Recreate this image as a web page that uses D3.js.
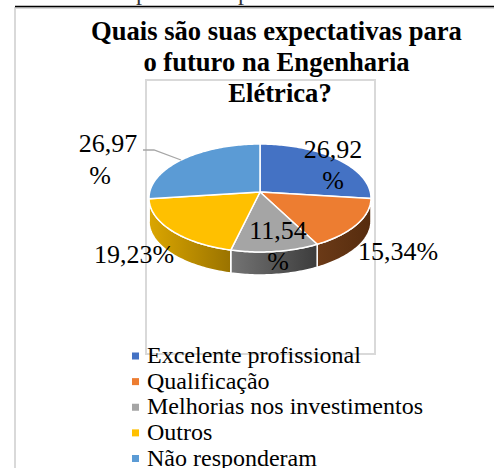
<!DOCTYPE html>
<html>
<head>
<meta charset="utf-8">
<script src="https://cdn.jsdelivr.net/npm/d3@7"></script>
<style>
  html, body { margin: 0; padding: 0; background: #fff; overflow: hidden; }
  svg { display: block; }
  text { font-family: "Liberation Serif", serif; fill: #000; }
</style>
</head>
<body>
<svg id="chart" width="494" height="468"></svg>
<script>
const categories = ["Excelente profissional", "Qualificação", "Melhorias nos investimentos", "Outros", "Não responderam"];
const values = [26.92, 15.34, 11.54, 19.23, 26.97];
const titleLines = ["Quais são suas expectativas para", "o futuro na Engenharia", "Elétrica?"];
const caption = "Gráfico - Expectativas para o futuro";

const colors = ["#4472c4", "#ed7d31", "#a5a5a5", "#ffc000", "#5b9bd5"];
const wallColors = [["#2a4a85", "#2a4a85"], ["#6b3a17", "#562c0e"], ["#747474", "#3c3c3c"], ["#dba600", "#9a7300"], ["#3d6e9c", "#3d6e9c"]];

// label placement: x centre, baseline of each line, whether it wraps
const labelLayout = [
    { x: 333, y: [158, 189], wrap: true },
    { x: 398, y: [260], wrap: false },
    { x: 278, y: [239, 270], wrap: true },
    { x: 134, y: [263], wrap: false },
    { x: 108, y: [152], wrap: true, pctX: 100, pctY: 184 },
];

const svg = d3.select("#chart");

const cx = 260, cy = 192, rx = 110.3, ry = 53.3, persp = 0.111, depth = 23;

// the pie is a tilted disc in perspective: far edge shrinks, so the apex sits above the ellipse centre
function project(a, dy) {
    const u = Math.sin(a), v = Math.cos(a), w = 1 + persp * v;
    return [cx + rx * u / w, cy - ry * v / w + dy];
}

function arcPoints(a0, a1, dy) {
    const n = Math.max(2, Math.ceil((a1 - a0) / 0.02));
    return d3.range(n + 1).map((i) => project(a0 + (a1 - a0) * i / n, dy));
}

const line = d3.line();
const pie = d3.pie().sort(null).value((d) => d);
const slices = pie(values);

// frames and the clipped caption line above the chart
svg.append("text").attr("x", 16).attr("y", 0).attr("text-anchor", "start")
    .attr("font-size", 24).style("fill", "#333").text(caption);
svg.append("rect").attr("x", 15).attr("y", 8).attr("width", 500).attr("height", 480)
    .attr("fill", "#fff").attr("stroke", "#d9d9d9").attr("stroke-width", 2);
svg.append("line").attr("x1", 15).attr("x2", 494).attr("y1", 6.5).attr("y2", 6.5)
    .attr("stroke", "#000").attr("stroke-width", 1.5);
svg.append("rect").attr("x", 146).attr("y", 80).attr("width", 229).attr("height", 274)
    .attr("fill", "none").attr("stroke", "#d9d9d9").attr("stroke-width", 2);

svg.append("text").attr("text-anchor", "middle").attr("font-size", 26.6).attr("font-weight", "bold")
    .selectAll("tspan").data(titleLines).join("tspan")
    .attr("x", (d, i) => (i === 2 ? 280 : 276.5))
    .attr("y", (d, i) => 40 + i * 31)
    .text((d) => d);

// side wall, only the part of the rim that faces the viewer
const visStart = 96.4 * Math.PI / 180, visEnd = 263.6 * Math.PI / 180;
const defs = svg.append("defs");
const wall = svg.append("g");
slices.forEach((s, i) => {
    const a0 = Math.max(s.startAngle, visStart), a1 = Math.min(s.endAngle, visEnd);
    if (a1 <= a0) return;
    const top = arcPoints(a0, a1, 0);
    const bottom = arcPoints(a0, a1, depth).reverse();
    const xs = top.map((p) => p[0]);
    const grad = defs.append("linearGradient").attr("id", "wall" + i)
        .attr("gradientUnits", "userSpaceOnUse")
        .attr("x1", d3.min(xs)).attr("x2", d3.max(xs)).attr("y1", 0).attr("y2", 0);
    grad.append("stop").attr("offset", 0).attr("stop-color", wallColors[i][0]);
    grad.append("stop").attr("offset", 1).attr("stop-color", wallColors[i][1]);
    wall.append("path").attr("d", line(top.concat(bottom)) + "Z")
        .attr("fill", `url(#wall${i})`).attr("stroke", "#fff").attr("stroke-width", 1.5);
});

// top face
svg.append("g").selectAll("path").data(slices).join("path")
    .attr("d", (d) => line([[cx, cy]].concat(arcPoints(d.startAngle, d.endAngle, 0))) + "Z")
    .attr("fill", (d, i) => colors[i])
    .attr("stroke", "#fff").attr("stroke-width", 1.5).attr("stroke-linejoin", "round");

// leader for the last label
svg.append("path").attr("d", line([[143, 150], [154, 150], [181, 160]]))
    .attr("fill", "none").attr("stroke", "#a6a6a6").attr("stroke-width", 1.3);

const fmt = (v) => v.toFixed(2).replace(".", ",");
const labels = svg.append("g").attr("font-size", 26).attr("text-anchor", "middle");
values.forEach((v, i) => {
    const l = labelLayout[i];
    if (l.wrap) {
        labels.append("text").attr("x", l.x).attr("y", l.y[0]).text(fmt(v));
        labels.append("text").attr("x", l.pctX || l.x).attr("y", l.pctY || l.y[1]).text("%");
    } else {
        labels.append("text").attr("x", l.x).attr("y", l.y[0]).text(fmt(v) + "%");
    }
});

// legend
const legendY = d3.scalePoint().domain(categories).range([356, 458.5]);
const legend = svg.append("g").selectAll("g").data(categories).join("g")
    .attr("transform", (d) => `translate(0,${legendY(d)})`);
legend.append("rect").attr("x", 132).attr("y", -3.5).attr("width", 7).attr("height", 7)
    .attr("fill", (d, i) => colors[i]);
legend.append("text").attr("x", 147).attr("y", 7).attr("font-size", 24).text((d) => d);
</script>
</body>
</html>
